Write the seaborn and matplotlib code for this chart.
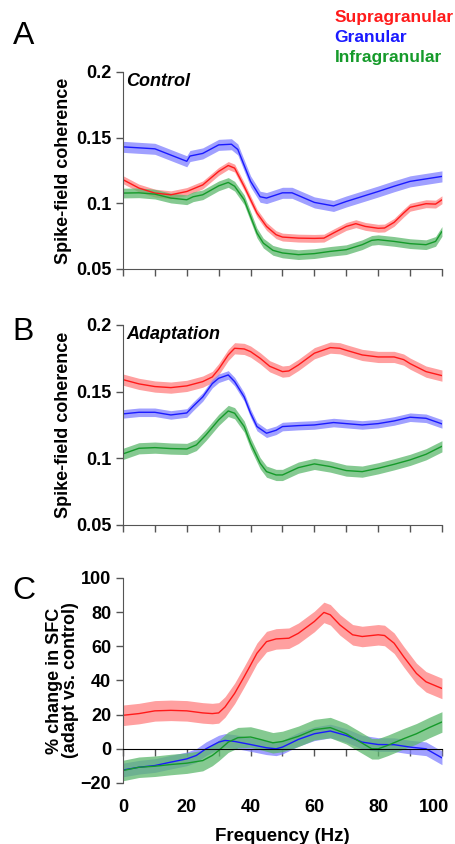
import seaborn as sns
import matplotlib.pyplot as plt
import matplotlib.transforms as mtransforms
import numpy as np

# colours of the three layers
RED, BLUE, GREEN = "#ff1a1a", "#1a1aff", "#159a2a"
RED_B, BLUE_B, GREEN_B = "#ff8080", "#8080ff", "#5cb86c"

# ---- panel A : control ----
a_sup_f = [0, 5, 10, 15, 20, 25, 30, 33, 35, 38, 40, 42, 45, 48, 50, 55, 60, 63, 66, 70, 73, 76, 80, 82, 85, 88, 90, 95, 98, 100]
a_sup = [0.118, 0.1116, 0.1078, 0.1065, 0.109, 0.114, 0.1243, 0.1288, 0.1268, 0.1128, 0.1027, 0.0926, 0.0824, 0.0761,
         0.0743, 0.0735, 0.0733, 0.0735, 0.0774, 0.0824, 0.0845, 0.0824, 0.081, 0.0812, 0.0855, 0.0926, 0.097, 0.0997, 0.0994, 0.1027]
a_gra_f = [0, 10, 20, 21, 25, 30, 34, 36, 40, 43, 45, 50, 53, 60, 66, 70, 80, 85, 90, 100]
a_gra = [0.143, 0.1415, 0.132, 0.136, 0.138, 0.1445, 0.145, 0.141, 0.1167, 0.105, 0.104, 0.108, 0.108, 0.1007,
         0.098, 0.1014, 0.109, 0.113, 0.1167, 0.1205]
a_inf_f = [0, 5, 10, 15, 20, 22, 25, 30, 33, 35, 38, 40, 42, 44, 47, 50, 55, 60, 65, 70, 75, 78, 80, 85, 90, 95, 98, 100]
a_inf = [0.1078, 0.108, 0.107, 0.104, 0.1027, 0.105, 0.1065, 0.1133, 0.1159, 0.113, 0.1027, 0.090, 0.0774, 0.0697,
         0.0642, 0.0622, 0.0609, 0.0617, 0.0634, 0.0647, 0.0685, 0.0718, 0.0723, 0.071, 0.0693, 0.0685, 0.071, 0.0786]

# ---- panel B : adaptation ----
b_sup_f = [0, 5, 10, 15, 20, 25, 28, 30, 33, 35, 38, 40, 43, 46, 50, 52, 55, 60, 65, 68, 70, 75, 80, 85, 88, 90, 95, 100]
b_sup = [0.159, 0.1558, 0.1538, 0.153, 0.1543, 0.1575, 0.161, 0.1668, 0.1775, 0.1825, 0.182, 0.18, 0.175, 0.169,
         0.165, 0.1655, 0.17, 0.1788, 0.183, 0.1825, 0.181, 0.1775, 0.176, 0.176, 0.174, 0.171, 0.165, 0.162]
b_gra_f = [0, 5, 10, 15, 20, 22, 25, 28, 30, 33, 35, 38, 40, 42, 45, 48, 50, 55, 60, 66, 70, 75, 80, 85, 90, 95, 100]
b_gra = [0.1333, 0.1345, 0.1345, 0.1325, 0.134, 0.139, 0.146, 0.156, 0.160, 0.1625, 0.1575, 0.146, 0.1338, 0.1238,
         0.1188, 0.121, 0.1238, 0.1245, 0.125, 0.1268, 0.126, 0.125, 0.126, 0.128, 0.1308, 0.130, 0.1258]
b_inf_f = [0, 5, 10, 15, 20, 23, 26, 30, 33, 35, 38, 40, 43, 45, 48, 50, 55, 60, 65, 70, 75, 80, 85, 90, 95, 100]
b_inf = [0.1033, 0.1075, 0.108, 0.1073, 0.107, 0.110, 0.1175, 0.1288, 0.1355, 0.1338, 0.1238, 0.1113, 0.0963, 0.090,
         0.0875, 0.0875, 0.093, 0.0958, 0.0938, 0.0908, 0.090, 0.0925, 0.0955, 0.0988, 0.103, 0.109]

# ---- panel C : % change ----
c_sup_f = [0, 5, 10, 15, 20, 25, 28, 30, 32, 35, 38, 40, 42, 45, 48, 52, 55, 60, 63, 65, 68, 72, 75, 80, 82, 85, 88, 92, 95, 100]
c_sup = [19.6, 20.6, 22.2, 22.5, 22.2, 21, 20.6, 21, 24.5, 32.4, 42.2, 49, 55.9, 62.7, 64.3, 64.7, 67.6, 74.5, 79.8,
         78.4, 72.5, 66.7, 65.7, 66.7, 66.3, 61.8, 53.9, 44.1, 39.2, 35.3]
c_gra_f = [0, 5, 10, 15, 20, 23, 26, 30, 32, 35, 40, 45, 48, 50, 55, 60, 65, 70, 75, 80, 85, 90, 95, 100]
c_gra = [-12.4, -10.8, -9.8, -7.8, -5.9, -3.9, 0, 3.9, 4.9, 4.3, 2.5, 0.6, 0, 1, 5.5, 8.8, 10.4, 7.8, 3.9, 2.5,
         2.4, 1, 0, -5.3]
c_inf_f = [0, 5, 10, 15, 20, 25, 28, 30, 33, 36, 40, 43, 47, 50, 55, 60, 65, 70, 75, 78, 80, 83, 88, 92, 96, 100]
c_inf = [-12.7, -10.8, -10.2, -9.2, -8.4, -6.9, -3.9, -1, 3.9, 6.5, 6.9, 5.5, 3.5, 4.3, 7.3, 11.2, 12.4, 8.8, 3.3,
         0, 0, 2, 5.9, 8.8, 12.4, 15.7]

# half widths of the shaded error bands
a_err = [0.003, 0.0042, 0.0037]
b_err = [0.0042, 0.0032, 0.0042]
c_err = [6, 4, 6]

layers = ["Supragranular", "Granular", "Infragranular"]

sns.set_style("ticks")
plt.rcParams["font.family"] = ["Liberation Sans", "DejaVu Sans"]
plt.rcParams["font.weight"] = "bold"
plt.rcParams["text.color"] = "black"
plt.rcParams["axes.labelcolor"] = "black"

fig = plt.figure(figsize=(4.55, 8.44), dpi=100)
axA = fig.add_axes([0.2703, 0.6813, 0.701, 0.2334])
axB = fig.add_axes([0.2703, 0.378, 0.701, 0.237])
axC = fig.add_axes([0.2703, 0.0723, 0.701, 0.243])

panels = [
    (axA, [(a_sup_f, a_sup), (a_gra_f, a_gra), (a_inf_f, a_inf)], a_err),
    (axB, [(b_sup_f, b_sup), (b_gra_f, b_gra), (b_inf_f, b_inf)], b_err),
    (axC, [(c_sup_f, c_sup), (c_gra_f, c_gra), (c_inf_f, c_inf)], c_err),
]
lines = [RED, BLUE, GREEN]
bands = [RED_B, BLUE_B, GREEN_B]

for ax, series, errs in panels:
    # bands first, then the mean lines
    for (f, v), e, bc in zip(series, errs, bands):
        v = np.array(v)
        ax.fill_between(f, v - e, v + e, color=bc, alpha=0.75, linewidth=0)
    for (f, v), lc in zip(series, lines):
        sns.lineplot(x=f, y=v, color=lc, linewidth=1.0, ax=ax)
    ax.set_xlim(0, 100)
    ax.set_xticks(np.arange(0, 101, 10))
    for side in ["top", "right"]:
        ax.spines[side].set_visible(False)
    for side in ["left", "bottom"]:
        ax.spines[side].set_color("#555555")
    ax.tick_params(colors="#555555", length=5, width=1, labelcolor="black", labelsize=13)

for ax, title in [(axA, "Control"), (axB, "Adaptation")]:
    ax.set_ylim(0.05, 0.2)
    ax.set_yticks([0.05, 0.1, 0.15, 0.2])
    ax.set_yticklabels(["0.05", "0.1", "0.15", "0.2"])
    ax.set_xticklabels([])
    ax.set_ylabel("Spike-field coherence", fontsize=13, fontweight="bold", labelpad=3)
    ax.text(0.01, 0.995, title, transform=ax.transAxes, fontsize=13, fontweight="bold",
            fontstyle="italic", va="top", ha="left")

axC.set_ylim(-20, 100)
axC.set_yticks(np.arange(-20, 101, 20))
axC.spines["bottom"].set_position(("data", 0))
axC.spines["bottom"].set_color("black")
axC.set_xticklabels(["0", "", "20", "", "40", "", "60", "", "80", "", "100"])
axC.tick_params(axis="x", pad=31)
# the last label sits a little left of its tick, as in the original
last = axC.get_xticklabels()[-1]
last.set_transform(last.get_transform() + mtransforms.ScaledTranslation(-0.08, 0, fig.dpi_scale_trans))
axC.set_ylabel("% change in SFC\n(adapt vs. control)", fontsize=13, fontweight="bold", labelpad=1,
               linespacing=0.95)
axC.set_xlabel("Frequency (Hz)", fontsize=13.5, fontweight="bold", labelpad=9)

# panel letters
for y, letter in [(0.975, "A"), (0.625, "B"), (0.318, "C")]:
    fig.text(0.028, y, letter, fontsize=23, fontweight="normal", va="top")

# coloured legend text
for i, (name, c) in enumerate(zip(layers, lines)):
    fig.text(0.735, 0.988 - i * 0.0235, name, color=c, fontsize=12.5, fontweight="bold", va="top")

plt.savefig("out.png", dpi=100)
